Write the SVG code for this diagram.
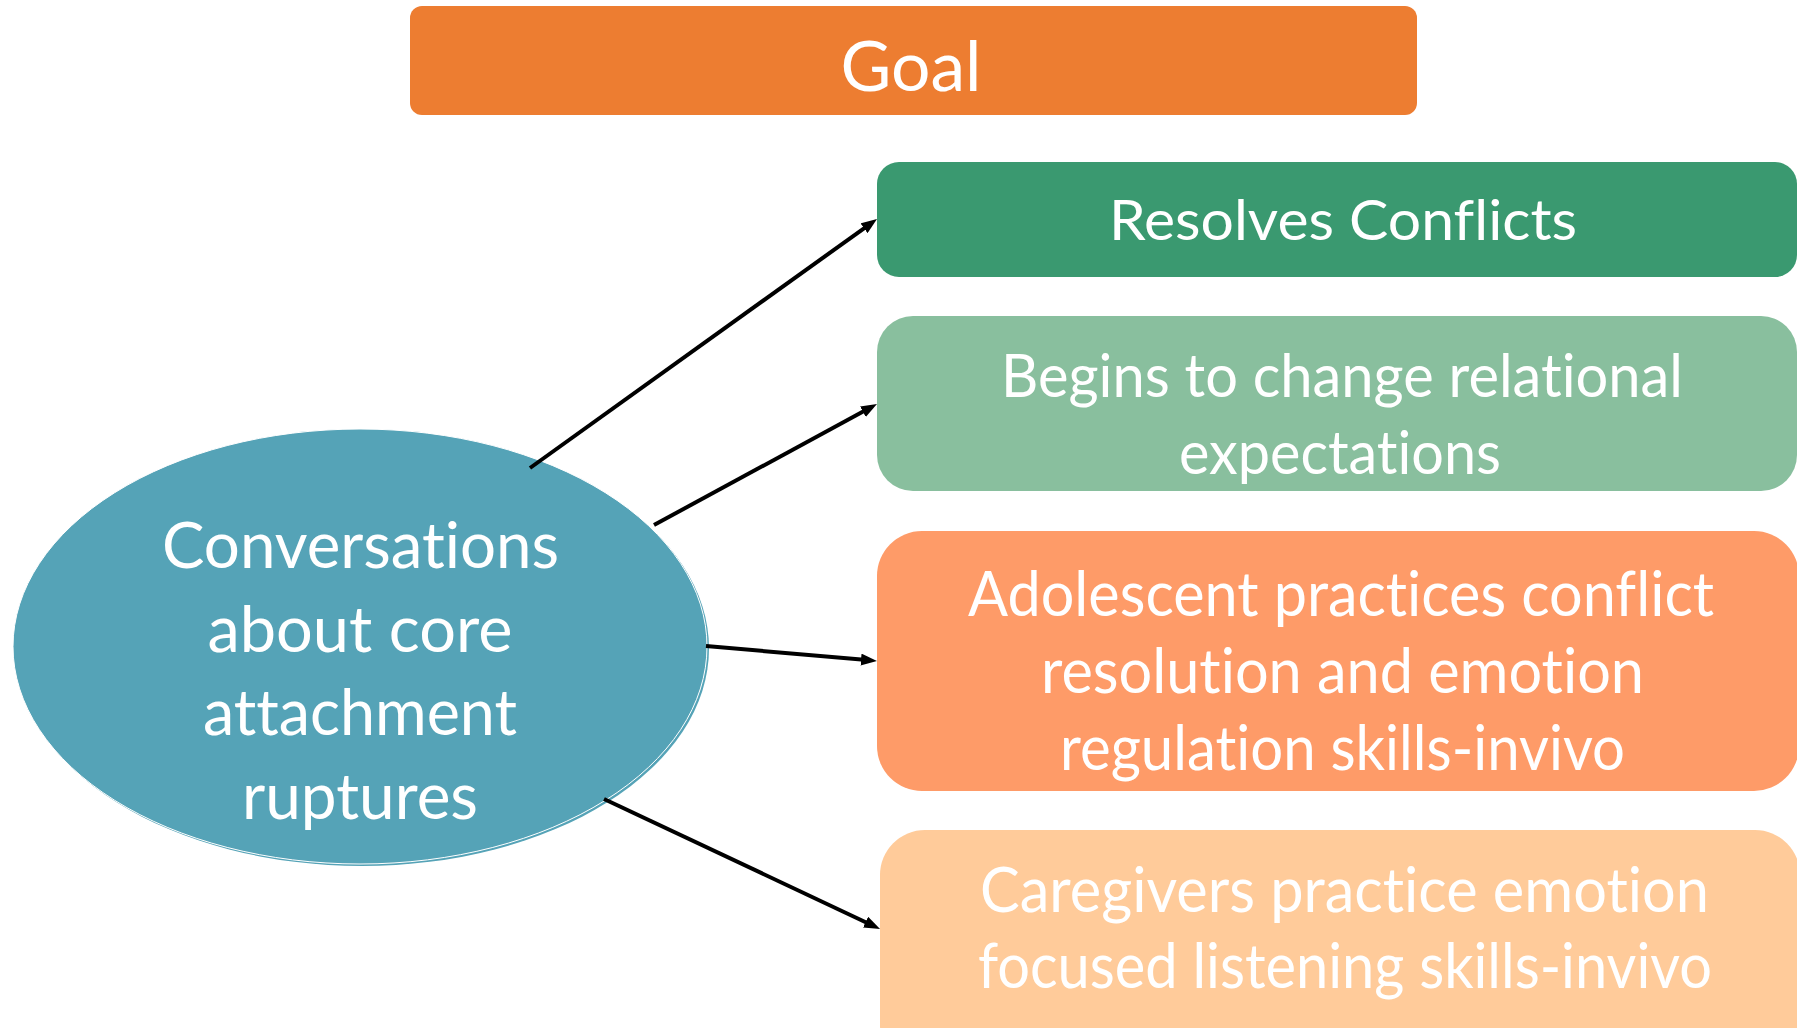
<svg xmlns="http://www.w3.org/2000/svg" width="1797" height="1028" viewBox="0 0 1797 1028">
  <defs>
    <style>
      .lbl { font-family: "Lato", "Open Sans", "Liberation Sans", sans-serif; fill: #ffffff; text-anchor: middle; font-variant-ligatures: none; font-feature-settings: "liga" 0, "clig" 0; }
      .link { stroke: #000000; stroke-width: 4; fill: none; marker-end: url(#head); }
    </style>
    <marker id="head" markerUnits="userSpaceOnUse" markerWidth="16" markerHeight="12" refX="6" refY="6" orient="auto">
      <path d="M0,0 L16,6 L0,12 z" fill="#000000"/>
    </marker>
  </defs>

  <rect width="1797" height="1028" fill="#ffffff"/>

  <!-- Header -->
  <g id="goal">
    <rect x="410" y="6" width="1007" height="109" rx="12" ry="12" fill="#ED7D31"/>
    <text class="lbl" x="911" y="91" font-size="70" textLength="141" lengthAdjust="spacingAndGlyphs">Goal</text>
  </g>

  <!-- Source node -->
  <g id="conversations">
    <ellipse cx="362" cy="648.5" rx="347" ry="217.5" fill="#55A3B7"/>
    <ellipse cx="360" cy="646.5" rx="347" ry="217.5" fill="#55A3B7" stroke="#ffffff" stroke-width="1"/>
    <text class="lbl" x="360.5" y="568" font-size="63" textLength="397" lengthAdjust="spacingAndGlyphs">Conversations</text>
    <text class="lbl" x="360" y="652" font-size="63" textLength="305" lengthAdjust="spacingAndGlyphs">about core</text>
    <text class="lbl" x="360" y="735" font-size="63" textLength="314" lengthAdjust="spacingAndGlyphs">attachment</text>
    <text class="lbl" x="360" y="819" font-size="63" textLength="236" lengthAdjust="spacingAndGlyphs">ruptures</text>
  </g>

  <!-- Outcome nodes -->
  <g id="resolves">
    <rect x="877" y="162" width="920" height="115" rx="22" ry="22" fill="#3A9970"/>
    <text class="lbl" x="1343" y="240" font-size="57" textLength="468" lengthAdjust="spacingAndGlyphs">Resolves Conflicts</text>
  </g>

  <g id="relational">
    <rect x="877" y="316" width="920" height="175" rx="36" ry="36" fill="#89BF9E"/>
    <text class="lbl" x="1342" y="397" font-size="60" textLength="682" lengthAdjust="spacingAndGlyphs">Begins to change relational</text>
    <text class="lbl" x="1340" y="474" font-size="60" textLength="322" lengthAdjust="spacingAndGlyphs">expectations</text>
  </g>

  <g id="adolescent">
    <rect x="877" y="531" width="922" height="260" rx="45" ry="45" fill="#FE9B68"/>
    <text class="lbl" x="1341" y="616" font-size="61" textLength="746" lengthAdjust="spacingAndGlyphs">Adolescent practices conflict</text>
    <text class="lbl" x="1342.5" y="693" font-size="61" textLength="603" lengthAdjust="spacingAndGlyphs">resolution and emotion</text>
    <text class="lbl" x="1342.5" y="770" font-size="61" textLength="565" lengthAdjust="spacingAndGlyphs">regulation skills-invivo</text>
  </g>

  <g id="caregivers">
    <rect x="880" y="830" width="920" height="240" rx="45" ry="45" fill="#FFCB9A"/>
    <text class="lbl" x="1344.5" y="912" font-size="61" textLength="729" lengthAdjust="spacingAndGlyphs">Caregivers practice emotion</text>
    <text class="lbl" x="1345" y="988" font-size="61" textLength="734" lengthAdjust="spacingAndGlyphs">focused listening skills-invivo</text>
  </g>

  <!-- Connectors -->
  <g id="connectors">
    <line class="link" x1="530" y1="468" x2="868.9" y2="224.8"/>
    <line class="link" x1="654" y1="525" x2="868.2" y2="408.8"/>
    <line class="link" x1="706" y1="646" x2="867.0" y2="660.1"/>
    <line class="link" x1="604" y1="799" x2="871.0" y2="924.7"/>
  </g>
</svg>
